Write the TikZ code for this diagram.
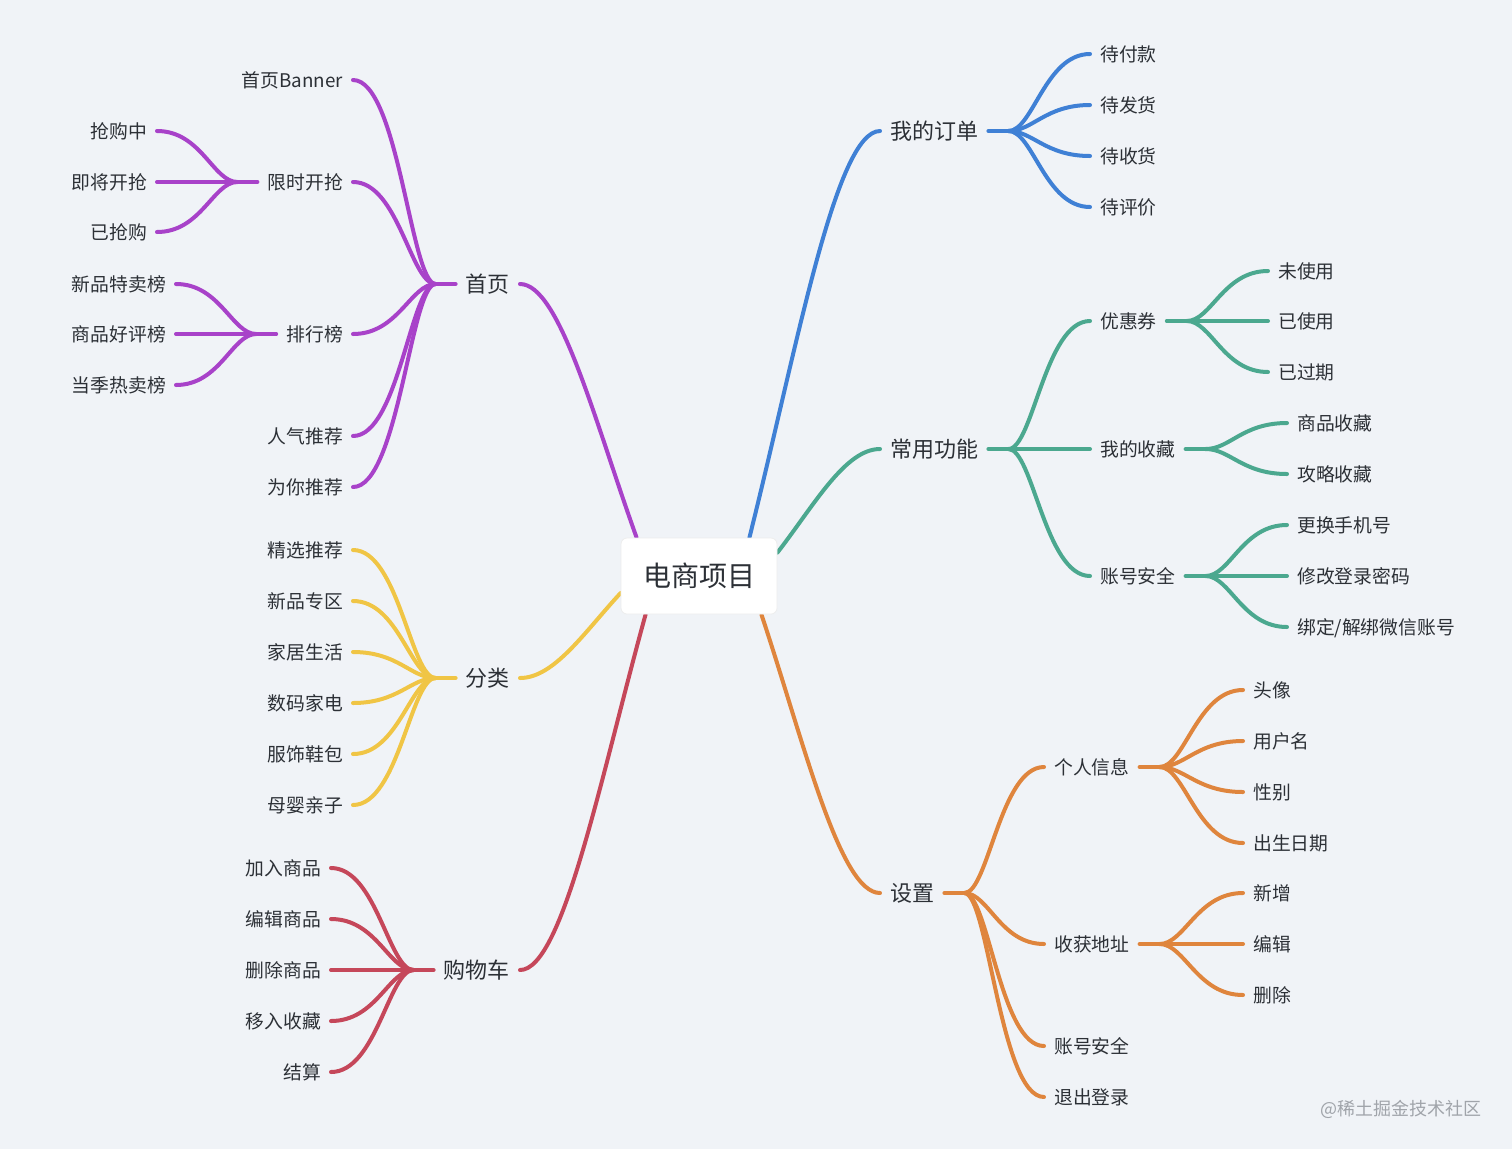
\documentclass[tikz,border=0pt]{standalone}
\usepackage{fontspec}
\setmainfont{Noto Sans CJK SC}
\usetikzlibrary{calc}
\definecolor{bgc}{HTML}{F0F3F7}
\definecolor{cpur}{HTML}{A842C9}
\definecolor{cblu}{HTML}{3F80D5}
\definecolor{cgrn}{HTML}{4BA88F}
\definecolor{cyel}{HTML}{F0C545}
\definecolor{cred}{HTML}{C5475A}
\definecolor{cora}{HTML}{DF853D}
\definecolor{txt}{HTML}{2C3036}
\definecolor{wmc}{HTML}{A0A4AA}
\pgfdeclarelayer{back}
\pgfdeclarelayer{bg}
\pgfsetlayers{back,bg,main}
\newcommand\twig[3]{\begin{pgfonlayer}{bg}\draw[lk,#1] let \p1=(#2), \p2=(#3) in (\p1) .. controls ({\x1+0.3*(\x2-\x1)},\y1) and ({\x1+0.45*(\x2-\x1)},\y2) .. (\p2);\end{pgfonlayer}}
\newcommand\limb[3]{\begin{pgfonlayer}{bg}\draw[lk,#1] let \p1=(#2), \p2=(#3) in (\p1) .. controls ({\x1+0.34*(\x2-\x1)},\y1) and ({\x1+0.64*(\x2-\x1)},{\y1+0.54*(\y2-\y1)}) .. (\p2);\end{pgfonlayer}}
\newcommand\stub[3]{\begin{pgfonlayer}{bg}\draw[lk,#1] (#2) -- (#3);\end{pgfonlayer}}
\begin{document}
\begin{tikzpicture}[x=1pt,y=-1pt,
  lk/.style={line width=4pt, line cap=round},
  t1/.style={inner sep=0pt, text=txt, font=\fontsize{22}{26}\selectfont, text height=19.4pt, text depth=2.6pt},
  t2/.style={inner sep=0pt, text=txt, font=\fontsize{18.8}{22}\selectfont, text height=16.5pt, text depth=2.3pt},
  rootbox/.style={draw=black!7, line width=0.8pt, fill=white, rounded corners=6pt, minimum width=156pt, minimum height=76pt, inner sep=0pt, text=txt, font=\fontsize{28}{32}\selectfont},
  wmark/.style={inner sep=0pt, text=wmc, font=\fontsize{18}{20}\selectfont}]
\useasboundingbox (0,0) rectangle (1512,1149);
\begin{pgfonlayer}{back}\fill[bgc] (0,0) rectangle (1512,1149);\end{pgfonlayer}

\node[rootbox] (root) at (699,576) {电商项目};

% ---------- main nodes ----------
\node[t1,anchor=east] (shouye) at (510,284) {首页};
\node[t1,anchor=east] (fenlei) at (510,678) {分类};
\node[t1,anchor=east] (gwc) at (510,970) {购物车};
\node[t1,anchor=west] (wddd) at (890,131) {我的订单};
\node[t1,anchor=west] (cygn) at (890,449) {常用功能};
\node[t1,anchor=west] (shezhi) at (890,893) {设置};

\limb{cpur}{[xshift=10]shouye.east}{[xshift=16]root.north west}
\limb{cyel}{[xshift=10]fenlei.east}{[yshift=-17]root.west}
\limb{cred}{[xshift=10]gwc.east}{[xshift=25]root.south west}
\limb{cblu}{[xshift=-10]wddd.west}{[xshift=-28]root.north east}
\limb{cgrn}{[xshift=-10]cygn.west}{[yshift=-15]root.north east}
\limb{cora}{[xshift=-10]shezhi.west}{[xshift=-16]root.south east}

% junctions
\coordinate (jsy) at ($(shouye.west)+(-30,0)$);
\coordinate (jfl) at ($(fenlei.west)+(-30,0)$);
\coordinate (jgwc) at ($(gwc.west)+(-30,0)$);
\coordinate (jdd) at ($(wddd.east)+(30,0)$);
\coordinate (jcy) at ($(cygn.east)+(30,0)$);
\coordinate (jsz) at ($(shezhi.east)+(30,0)$);
\stub{cpur}{[xshift=-10]shouye.west}{jsy}
\stub{cyel}{[xshift=-10]fenlei.west}{jfl}
\stub{cred}{[xshift=-10]gwc.west}{jgwc}
\stub{cblu}{[xshift=10]wddd.east}{jdd}
\stub{cgrn}{[xshift=10]cygn.east}{jcy}
\stub{cora}{[xshift=10]shezhi.east}{jsz}

% ---------- 首页 ----------
\node[t2,anchor=east] (banner) at (343,80) {首页Banner};
\node[t2,anchor=east] (xsks) at (343,182) {限时开抢};
\node[t2,anchor=east] (phb) at (343,334) {排行榜};
\node[t2,anchor=east] (rqtj) at (343,436) {人气推荐};
\node[t2,anchor=east] (wntj) at (343,487) {为你推荐};
\foreach \k in {banner,xsks,phb,rqtj,wntj}{\twig{cpur}{jsy}{[xshift=10]\k.east}}
\coordinate (jxs) at ($(xsks.west)+(-30,0)$);
\coordinate (jph) at ($(phb.west)+(-30,0)$);
\stub{cpur}{[xshift=-10]xsks.west}{jxs}
\stub{cpur}{[xshift=-10]phb.west}{jph}
\node[t2,anchor=east] (qgz) at (147,131) {抢购中};
\node[t2,anchor=east] (jjkq) at (147,182) {即将开抢};
\node[t2,anchor=east] (yqg) at (147,232) {已抢购};
\foreach \k in {qgz,jjkq,yqg}{\twig{cpur}{jxs}{[xshift=10]\k.east}}
\node[t2,anchor=east] (xptm) at (166,284) {新品特卖榜};
\node[t2,anchor=east] (sphp) at (166,334) {商品好评榜};
\node[t2,anchor=east] (djrm) at (166,385) {当季热卖榜};
\foreach \k in {xptm,sphp,djrm}{\twig{cpur}{jph}{[xshift=10]\k.east}}

% ---------- 分类 ----------
\node[t2,anchor=east] (jxtj) at (343,550) {精选推荐};
\node[t2,anchor=east] (xpzq) at (343,601) {新品专区};
\node[t2,anchor=east] (jjsh) at (343,652) {家居生活};
\node[t2,anchor=east] (smjd) at (343,703) {数码家电};
\node[t2,anchor=east] (fsxb) at (343,754) {服饰鞋包};
\node[t2,anchor=east] (myqz) at (343,805) {母婴亲子};
\foreach \k in {jxtj,xpzq,jjsh,smjd,fsxb,myqz}{\twig{cyel}{jfl}{[xshift=10]\k.east}}

% ---------- 购物车 ----------
\node[t2,anchor=east] (jrsp) at (321,868) {加入商品};
\node[t2,anchor=east] (bjsp) at (321,919) {编辑商品};
\node[t2,anchor=east] (scsp) at (321,970) {删除商品};
\node[t2,anchor=east] (yrsc) at (321,1021) {移入收藏};
\node[t2,anchor=east] (js) at (321,1072) {结算};
\foreach \k in {jrsp,bjsp,scsp,yrsc,js}{\twig{cred}{jgwc}{[xshift=10]\k.east}}

% ---------- 我的订单 ----------
\node[t2,anchor=west] (dfk) at (1100,54) {待付款};
\node[t2,anchor=west] (dfh) at (1100,105) {待发货};
\node[t2,anchor=west] (dsh) at (1100,156) {待收货};
\node[t2,anchor=west] (dpj) at (1100,207) {待评价};
\foreach \k in {dfk,dfh,dsh,dpj}{\twig{cblu}{jdd}{[xshift=-10]\k.west}}

% ---------- 常用功能 ----------
\node[t2,anchor=west] (yhq) at (1100,321) {优惠券};
\node[t2,anchor=west] (wdsc) at (1100,449) {我的收藏};
\node[t2,anchor=west] (zhaq) at (1100,576) {账号安全};
\foreach \k in {yhq,wdsc,zhaq}{\twig{cgrn}{jcy}{[xshift=-10]\k.west}}
\coordinate (jyh) at ($(yhq.east)+(30,0)$);
\coordinate (jsc) at ($(wdsc.east)+(30,0)$);
\coordinate (jaq) at ($(zhaq.east)+(30,0)$);
\stub{cgrn}{[xshift=10]yhq.east}{jyh}
\stub{cgrn}{[xshift=10]wdsc.east}{jsc}
\stub{cgrn}{[xshift=10]zhaq.east}{jaq}
\node[t2,anchor=west] (wsy) at (1278,271) {未使用};
\node[t2,anchor=west] (ysy) at (1278,321) {已使用};
\node[t2,anchor=west] (ygq) at (1278,372) {已过期};
\foreach \k in {wsy,ysy,ygq}{\twig{cgrn}{jyh}{[xshift=-10]\k.west}}
\node[t2,anchor=west] (spsc) at (1297,423) {商品收藏};
\node[t2,anchor=west] (glsc) at (1297,474) {攻略收藏};
\foreach \k in {spsc,glsc}{\twig{cgrn}{jsc}{[xshift=-10]\k.west}}
\node[t2,anchor=west] (ghsj) at (1297,525) {更换手机号};
\node[t2,anchor=west] (xgmm) at (1297,576) {修改登录密码};
\node[t2,anchor=west] (bdwx) at (1297,627) {绑定/解绑微信账号};
\foreach \k in {ghsj,xgmm,bdwx}{\twig{cgrn}{jaq}{[xshift=-10]\k.west}}

% ---------- 设置 ----------
\node[t2,anchor=west] (grxx) at (1054,767) {个人信息};
\node[t2,anchor=west] (shdz) at (1054,944) {收获地址};
\node[t2,anchor=west] (zhaqb) at (1054,1046) {账号安全};
\node[t2,anchor=west] (tcdl) at (1054,1097) {退出登录};
\foreach \k in {grxx,shdz,zhaqb,tcdl}{\twig{cora}{jsz}{[xshift=-10]\k.west}}
\coordinate (jgr) at ($(grxx.east)+(30,0)$);
\coordinate (jdz) at ($(shdz.east)+(30,0)$);
\stub{cora}{[xshift=10]grxx.east}{jgr}
\stub{cora}{[xshift=10]shdz.east}{jdz}
\node[t2,anchor=west] (tx) at (1253,690) {头像};
\node[t2,anchor=west] (yhm) at (1253,741) {用户名};
\node[t2,anchor=west] (xb) at (1253,792) {性别};
\node[t2,anchor=west] (csrq) at (1253,843) {出生日期};
\foreach \k in {tx,yhm,xb,csrq}{\twig{cora}{jgr}{[xshift=-10]\k.west}}
\node[t2,anchor=west] (xz) at (1253,893) {新增};
\node[t2,anchor=west] (bj) at (1253,944) {编辑};
\node[t2,anchor=west] (sc) at (1253,995) {删除};
\foreach \k in {xz,bj,sc}{\twig{cora}{jdz}{[xshift=-10]\k.west}}

\node[wmark,anchor=east] (wm) at (1482,1109) {@稀土掘金技术社区};
\end{tikzpicture}
\end{document}
